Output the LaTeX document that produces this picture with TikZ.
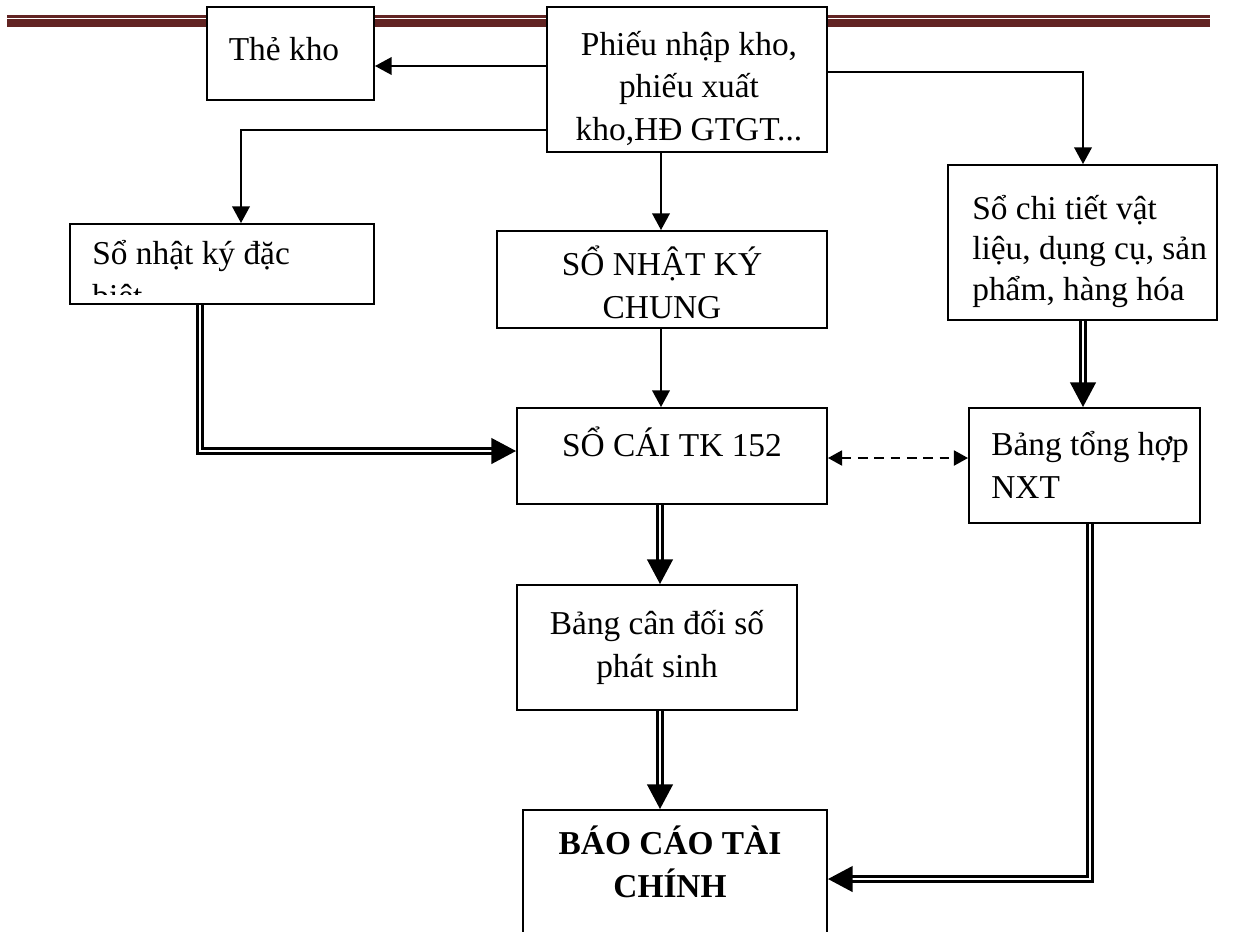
\documentclass[tikz,border=0pt]{standalone}
\usepackage{fontspec}
\setmainfont{Liberation Serif}
\usetikzlibrary{arrows.meta,fit}
\definecolor{hdrred}{HTML}{622423}
\tikzset{
  box/.style={draw, line width=1.1pt, fill=white, inner sep=0pt},
  txt/.style={font=\fontsize{19pt}{24pt}\selectfont, inner sep=0pt, align=center},
  txtl/.style={font=\fontsize{19pt}{24pt}\selectfont, inner sep=0pt, align=left},
  arr/.style={line width=1.1pt, -{Triangle[length=9.5pt,width=10pt]}},
  dblarr/.style={line width=1.45pt, double, double distance=1.5pt, -{Triangle[length=14pt,width=14.5pt]}},
  dasharr/.style={line width=1.2pt, dash pattern=on 5.5pt off 3.8pt, {Triangle[length=8pt,width=8.5pt]}-{Triangle[length=8pt,width=8.5pt]}}
}
\begin{document}
\begin{tikzpicture}[x=0.02cm,y=-0.02cm]
\useasboundingbox (0,0) rectangle (1247,931);
\clip (0,0) rectangle (1247,931);
% page header rule
\fill[hdrred] (7,15) rectangle (1210,17.5);
\fill[hdrred] (7,19) rectangle (1210,27);
% boxes
\node[box, fit={(207,7) (374,100)}] (thekho) {};
\node[box, fit={(547,7) (827,152)}] (phieu) {};
\node[box, fit={(70,224) (374,304)}] (snkdb) {};
\node[box, fit={(497,231) (827,328)}] (chung) {};
\node[box, fit={(948,165) (1217,320)}] (sct) {};
\node[box, fit={(517,408) (827,504)}] (socai) {};
\node[box, fit={(969,408) (1200,523)}] (bth) {};
\node[box, fit={(517,585) (797,710)}] (bcd) {};
\node[box, fit={(523,810) (827,960)}] (bctc) {};
% texts (base anchor = baseline of the last line)
\node[txt, anchor=base] (thekho-t) at (284,60) {Thẻ kho};
\node[txt, anchor=base] (phieu-t) at (689,140) {Phiếu nhập kho,\\phiếu xuất\\kho,HĐ GTGT...};
\begin{scope}
  \clip (70,224) rectangle (374,294);
  \node[txtl, anchor=base west] (snkdb-t) at (92,307) {Sổ nhật ký đặc\\biệt};
\end{scope}
\node[txt, anchor=base] (chung-t) at (662,318) {SỔ NHẬT KÝ\\CHUNG};
\node[txtl, anchor=base west, font=\fontsize{19pt}{23pt}\selectfont] (sct-t) at (972,300) {Sổ chi tiết vật\\liệu, dụng cụ, sản\\phẩm, hàng hóa};
\node[txt, anchor=base] (socai-t) at (672,456) {SỔ CÁI TK 152};
\node[txtl, anchor=base west] (bth-t) at (991,498) {Bảng tổng hợp\\NXT};
\node[txt, anchor=base] (bcd-t) at (657,677) {Bảng cân đối số\\phát sinh};
\node[txt, anchor=base, font=\fontsize{19pt}{24pt}\selectfont\bfseries] (bctc-t) at (670,897) {BÁO CÁO TÀI\\CHÍNH};
% connectors
\draw[arr] (phieu.west |- 0,66) -- (thekho.east |- 0,66);
\draw[arr] (phieu.east |- 0,72) -| (sct.north -| 1083,0);
\draw[arr] (phieu.west |- 0,130) -| (snkdb.north -| 241,0);
\draw[arr] (phieu.south -| 661,0) -- (chung.north -| 661,0);
\draw[arr] (chung.south -| 661,0) -- (socai.north -| 661,0);
\draw[dblarr] (snkdb.south -| 200,0) |- (socai.west |- 0,451);
\draw[dasharr] (socai.east |- 0,458) -- (bth.west |- 0,458);
\draw[dblarr] (sct.south -| 1083,0) -- (bth.north -| 1083,0);
\draw[dblarr] (socai.south -| 660,0) -- (bcd.north -| 660,0);
\draw[dblarr] (bcd.south -| 660,0) -- (bctc.north -| 660,0);
\draw[dblarr] (bth.south -| 1090,0) |- (bctc.east |- 0,879);
\end{tikzpicture}
\end{document}
